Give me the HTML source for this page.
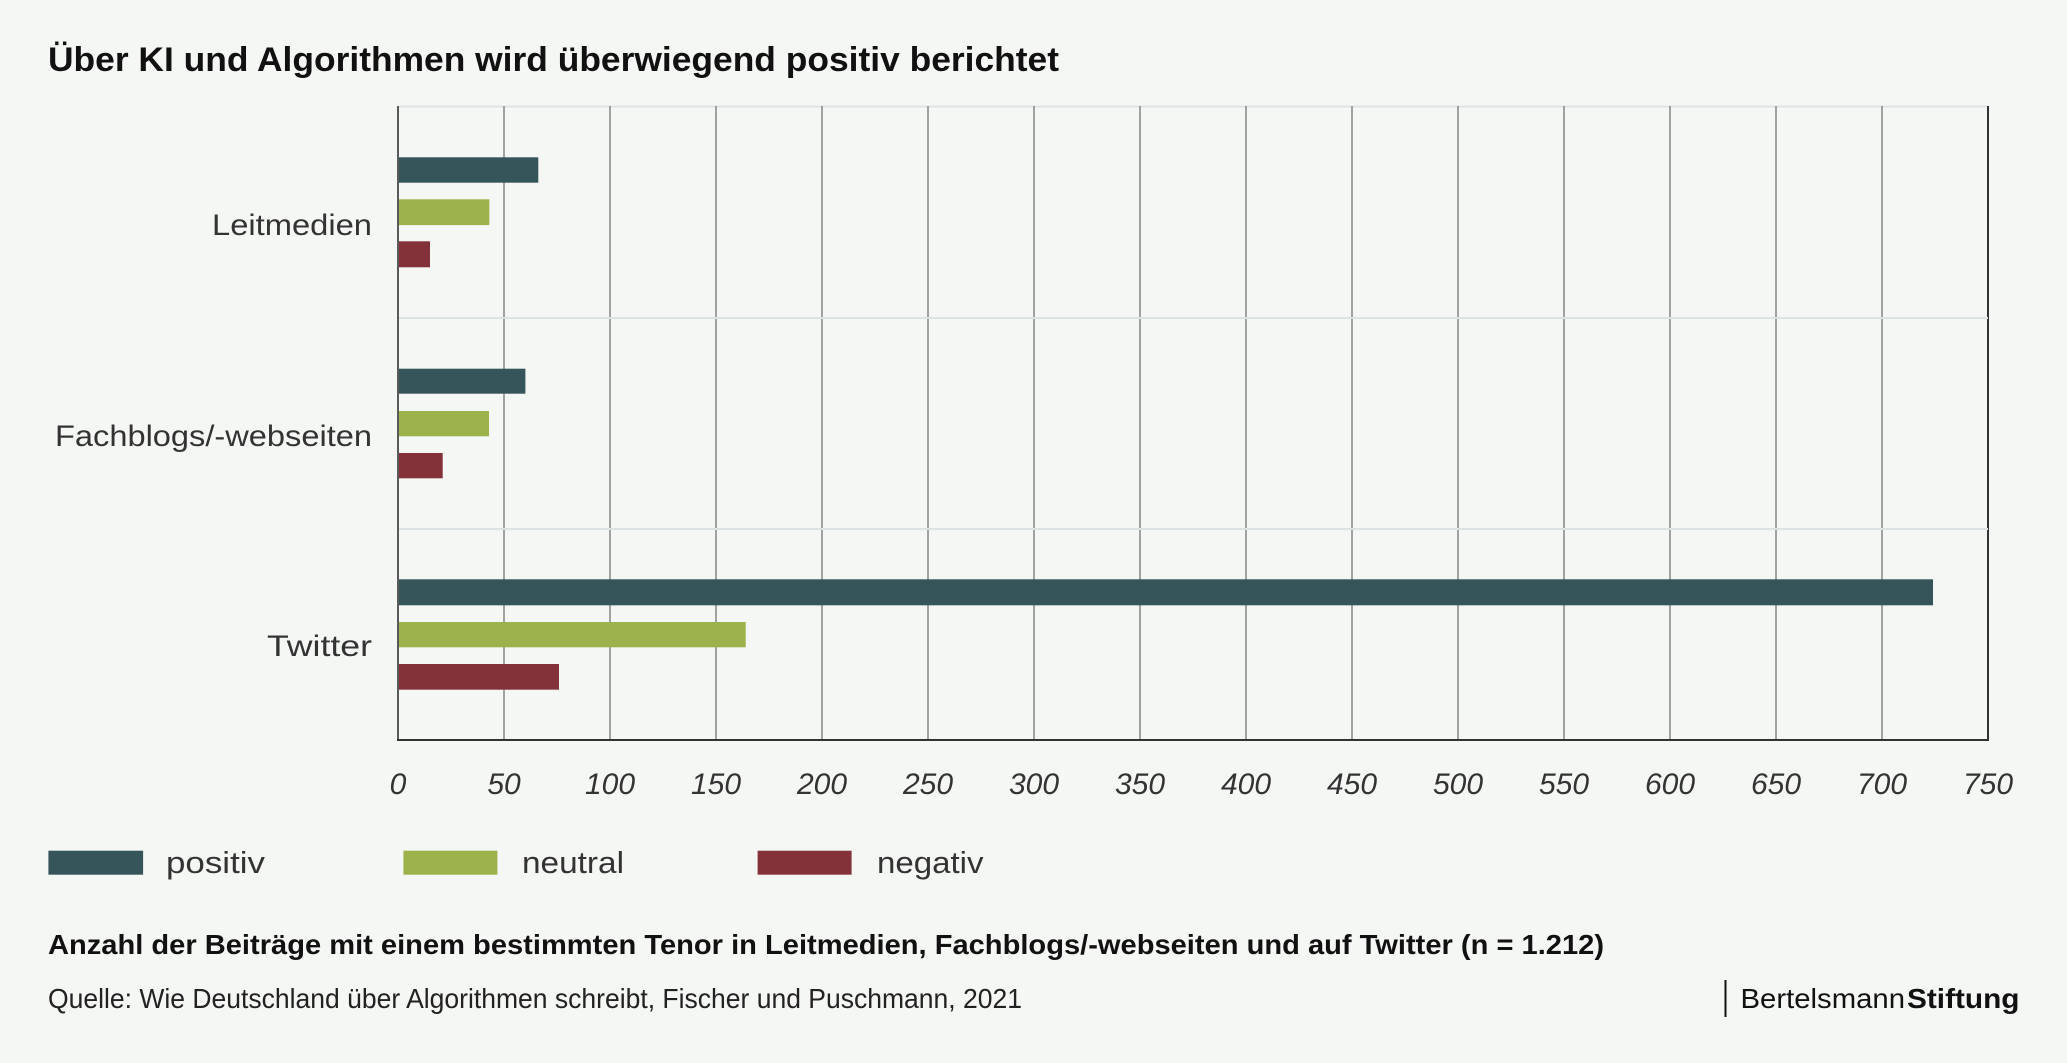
<!DOCTYPE html>
<html>
<head>
<meta charset="utf-8">
<style>
  html, body { margin:0; padding:0; background:#f5f7f4; }
  body { width:2067px; height:1063px; overflow:hidden; }
  svg { display:block; }
  text { font-family:"Liberation Sans", sans-serif; }
</style>
</head>
<body>
<svg width="2067" height="1063" viewBox="0 0 2067 1063" xmlns="http://www.w3.org/2000/svg">
  <rect x="0" y="0" width="2067" height="1063" fill="#f5f7f4"/>

  <!-- Title -->
  <text x="48" y="71" font-size="34" font-weight="bold" fill="#111" textLength="1011" lengthAdjust="spacingAndGlyphs">Über KI und Algorithmen wird überwiegend positiv berichtet</text>

  <!-- top border + category separators -->
  <line x1="398" y1="106.5" x2="1988" y2="106.5" stroke="#dde4e3" stroke-width="2"/>

  <!-- vertical gridlines -->
  <g stroke="#8c8c8c" stroke-width="1.6">
    <line x1="504" y1="106" x2="504" y2="740"/>
    <line x1="610" y1="106" x2="610" y2="740"/>
    <line x1="716" y1="106" x2="716" y2="740"/>
    <line x1="822" y1="106" x2="822" y2="740"/>
    <line x1="928" y1="106" x2="928" y2="740"/>
    <line x1="1034" y1="106" x2="1034" y2="740"/>
    <line x1="1140" y1="106" x2="1140" y2="740"/>
    <line x1="1246" y1="106" x2="1246" y2="740"/>
    <line x1="1352" y1="106" x2="1352" y2="740"/>
    <line x1="1458" y1="106" x2="1458" y2="740"/>
    <line x1="1564" y1="106" x2="1564" y2="740"/>
    <line x1="1670" y1="106" x2="1670" y2="740"/>
    <line x1="1776" y1="106" x2="1776" y2="740"/>
    <line x1="1882" y1="106" x2="1882" y2="740"/>
  </g>
  <line x1="1988" y1="106" x2="1988" y2="740" stroke="#333" stroke-width="2"/>

  <g stroke="#dbe3e3" stroke-width="2">
    <line x1="398" y1="318" x2="1988" y2="318"/>
    <line x1="398" y1="529" x2="1988" y2="529"/>
  </g>

  <!-- Bars: Leitmedien -->
  <rect x="398" y="157.3" width="140.3" height="25.4" fill="#36555a"/>
  <rect x="398" y="199.3" width="91.3" height="25.8" fill="#9bb34a"/>
  <rect x="398" y="241.3" width="32" height="26" fill="#84323a"/>

  <!-- Bars: Fachblogs -->
  <rect x="398" y="368.7" width="127.4" height="25" fill="#36555a"/>
  <rect x="398" y="411" width="91" height="25.3" fill="#9bb34a"/>
  <rect x="398" y="453" width="44.7" height="25.3" fill="#84323a"/>

  <!-- Bars: Twitter -->
  <rect x="398" y="579.3" width="1535" height="26" fill="#36555a"/>
  <rect x="398" y="622" width="347.7" height="25.3" fill="#9bb34a"/>
  <rect x="398" y="664" width="161" height="25.7" fill="#84323a"/>

  <!-- axes -->
  <line x1="398" y1="106" x2="398" y2="741" stroke="#5a5a5a" stroke-width="2"/>
  <line x1="397" y1="740" x2="1989" y2="740" stroke="#333" stroke-width="2"/>

  <!-- Category labels -->
  <g font-size="30" fill="#333" text-anchor="end">
    <text x="372" y="235" textLength="160" lengthAdjust="spacingAndGlyphs">Leitmedien</text>
    <text x="372" y="446" textLength="317" lengthAdjust="spacingAndGlyphs">Fachblogs/-webseiten</text>
    <text x="372" y="656" textLength="105" lengthAdjust="spacingAndGlyphs">Twitter</text>
  </g>

  <!-- Tick labels -->
  <g font-size="30" font-style="italic" fill="#333" text-anchor="middle">
    <text x="398" y="794">0</text>
    <text x="504" y="794">50</text>
    <text x="610" y="794">100</text>
    <text x="716" y="794">150</text>
    <text x="822" y="794">200</text>
    <text x="928" y="794">250</text>
    <text x="1034" y="794">300</text>
    <text x="1140" y="794">350</text>
    <text x="1246" y="794">400</text>
    <text x="1352" y="794">450</text>
    <text x="1458" y="794">500</text>
    <text x="1564" y="794">550</text>
    <text x="1670" y="794">600</text>
    <text x="1776" y="794">650</text>
    <text x="1882" y="794">700</text>
    <text x="1988" y="794">750</text>
  </g>

  <!-- Legend -->
  <rect x="48.4" y="850.7" width="94.7" height="24" fill="#36555a"/>
  <text x="166" y="873" font-size="31" fill="#333" textLength="99" lengthAdjust="spacingAndGlyphs">positiv</text>
  <rect x="403.4" y="850.7" width="94" height="24" fill="#9bb34a"/>
  <text x="522" y="873" font-size="31" fill="#333" textLength="102" lengthAdjust="spacingAndGlyphs">neutral</text>
  <rect x="757.6" y="850.7" width="94" height="24" fill="#84323a"/>
  <text x="877" y="873" font-size="31" fill="#333" textLength="106.5" lengthAdjust="spacingAndGlyphs">negativ</text>

  <!-- Subtitle -->
  <text x="48" y="954" font-size="28" font-weight="bold" fill="#111" textLength="1556" lengthAdjust="spacingAndGlyphs">Anzahl der Beiträge mit einem bestimmten Tenor in Leitmedien, Fachblogs/-webseiten und auf Twitter (n = 1.212)</text>

  <!-- Source -->
  <text x="48" y="1008" font-size="27.5" fill="#222" textLength="974" lengthAdjust="spacingAndGlyphs">Quelle: Wie Deutschland über Algorithmen schreibt, Fischer und Puschmann, 2021</text>

  <!-- Logo -->
  <line x1="1725.5" y1="980" x2="1725.5" y2="1017" stroke="#111" stroke-width="2"/>
  <text x="1740.5" y="1008" font-size="28" fill="#111" textLength="164.5" lengthAdjust="spacingAndGlyphs">Bertelsmann</text>
  <text x="1907" y="1008" font-size="28" font-weight="bold" fill="#111" textLength="112.5" lengthAdjust="spacingAndGlyphs">Stiftung</text>
</svg>
</body>
</html>
